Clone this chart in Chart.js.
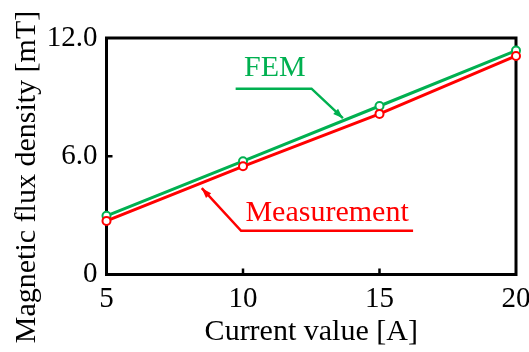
<!DOCTYPE html>
<html>
<head>
<meta charset="utf-8">
<script src="https://cdn.jsdelivr.net/npm/chart.js@4/dist/chart.umd.min.js"></script>
<style>
  html, body { margin: 0; padding: 0; background: #fff; }
  #wrap { width: 529px; height: 352px; }
</style>
</head>
<body>
<div id="wrap"><canvas id="myChart" width="529" height="352"></canvas></div>
<script>
// data
var current = [5, 10, 15, 20];
var fem = [2.98, 5.75, 8.55, 11.36];
var measurement = [2.72, 5.49, 8.15, 11.09];
var yTicks = [0, 6, 12];
var yTitle = 'Magnetic flux density [mT]';

// callout labels, anchored in data units: text pos, line start, corner, arrow tip
var femNote = { text: 'FEM', at: [11.17, 10.48], path: [[9.73, 9.43], [12.51, 9.43], [13.66, 7.93]] };
var measNote = { text: 'Measurement', at: [13.08, 3.12], path: [[16.23, 2.22], [9.93, 2.22], [8.49, 4.38]] };

var serif = '"Liberation Serif", "Times New Roman", Times, serif';
var green = 'rgb(0, 176, 80)';
var red = 'rgb(255, 0, 0)';

function pts(xs, ys) {
    return xs.map(function (x, i) { return { x: x, y: ys[i] }; });
}

var frame = {
    id: 'frame',
    beforeDatasetsDraw: function (chart) {
        var ctx = chart.ctx, a = chart.chartArea;
        var xs = chart.scales.x, ys = chart.scales.y;
        ctx.save();
        ctx.strokeStyle = '#000';
        ctx.lineWidth = 3;
        ctx.strokeRect(a.left, a.top, a.right - a.left, a.bottom - a.top);
        ctx.lineWidth = 2.5;
        [10, 15].forEach(function (v) {
            var px = xs.getPixelForValue(v);
            ctx.beginPath(); ctx.moveTo(px, a.bottom); ctx.lineTo(px, a.bottom - 6); ctx.stroke();
        });
        [6].forEach(function (v) {
            var py = ys.getPixelForValue(v);
            ctx.beginPath(); ctx.moveTo(a.left, py); ctx.lineTo(a.left + 6, py); ctx.stroke();
        });
        // y axis title, centred on the whole figure height like the original
        ctx.translate(27, chart.height / 2 + 1);
        ctx.rotate(-Math.PI / 2);
        ctx.fillStyle = '#000';
        ctx.font = '30px ' + serif;
        ctx.textAlign = 'center';
        ctx.textBaseline = 'middle';
        ctx.fillText(yTitle, 0, 0);
        ctx.restore();
    },
    afterDatasetsDraw: function (chart) {
        var ctx = chart.ctx;
        var xs = chart.scales.x, ys = chart.scales.y;
        function drawNote(note, color) {
            var p = note.path.map(function (q) { return [xs.getPixelForValue(q[0]), ys.getPixelForValue(q[1])]; });
            ctx.save();
            ctx.strokeStyle = color;
            ctx.fillStyle = color;
            ctx.lineWidth = 2.5;
            ctx.beginPath();
            ctx.moveTo(p[0][0], p[0][1]);
            for (var i = 1; i < p.length; i++) ctx.lineTo(p[i][0], p[i][1]);
            ctx.stroke();
            // arrow head
            var tip = p[p.length - 1], prev = p[p.length - 2];
            var ang = Math.atan2(tip[1] - prev[1], tip[0] - prev[0]);
            ctx.translate(tip[0], tip[1]);
            ctx.rotate(ang);
            ctx.beginPath();
            ctx.moveTo(0, 0); ctx.lineTo(-10, -3.5); ctx.lineTo(-10, 3.5); ctx.closePath();
            ctx.fill();
            ctx.restore();
            ctx.save();
            ctx.fillStyle = color;
            ctx.font = '30px ' + serif;
            ctx.textAlign = 'center';
            ctx.textBaseline = 'middle';
            ctx.fillText(note.text, xs.getPixelForValue(note.at[0]), ys.getPixelForValue(note.at[1]));
            ctx.restore();
        }
        drawNote(femNote, green);
        drawNote(measNote, red);
    }
};

var ctx = document.getElementById('myChart').getContext('2d');
var myChart = new Chart(ctx, {
    type: 'line',
    data: {
        datasets: [{
            label: 'Measurement',
            data: pts(current, measurement),
            borderColor: red,
            backgroundColor: '#fff',
            pointBorderColor: red,
            borderWidth: 3,
            pointRadius: 4,
            pointBorderWidth: 2,
            clip: false
        }, {
            label: 'FEM',
            data: pts(current, fem),
            borderColor: green,
            backgroundColor: '#fff',
            pointBorderColor: green,
            borderWidth: 3,
            pointRadius: 4,
            pointBorderWidth: 2,
            clip: false
        }]
    },
    options: {
        responsive: false,
        animation: false,
        layout: { padding: { top: 38, right: 13, left: 0, bottom: 0 } },
        plugins: { legend: { display: false }, tooltip: { enabled: false } },
        scales: {
            x: {
                type: 'linear',
                min: 5, max: 20,
                grid: { display: false, drawTicks: false },
                border: { display: false },
                ticks: {
                    stepSize: 5,
                    padding: 7,
                    color: '#000',
                    font: { family: serif, size: 29 }
                },
                title: {
                    display: true,
                    text: 'Current value [A]',
                    color: '#000',
                    font: { family: serif, size: 30 },
                    padding: { top: 0, bottom: 2 }
                },
                afterFit: function (s) { s.height = 77.5; s.paddingLeft = 0; s.paddingRight = 0; }
            },
            y: {
                min: 0, max: 12,
                grid: { display: false, drawTicks: false },
                border: { display: false },
                afterBuildTicks: function (s) { s.ticks = yTicks.map(function (v) { return { value: v }; }); },
                ticks: {
                    padding: 9,
                    color: '#000',
                    font: { family: serif, size: 29 },
                    callback: function (v) { return v === 0 ? '0' : v.toFixed(1); }
                },
                title: { display: false },
                afterFit: function (s) { s.width = 106.5; s.paddingTop = 0; s.paddingBottom = 0; }
            }
        }
    },
    plugins: [frame]
});
</script>
</body>
</html>
